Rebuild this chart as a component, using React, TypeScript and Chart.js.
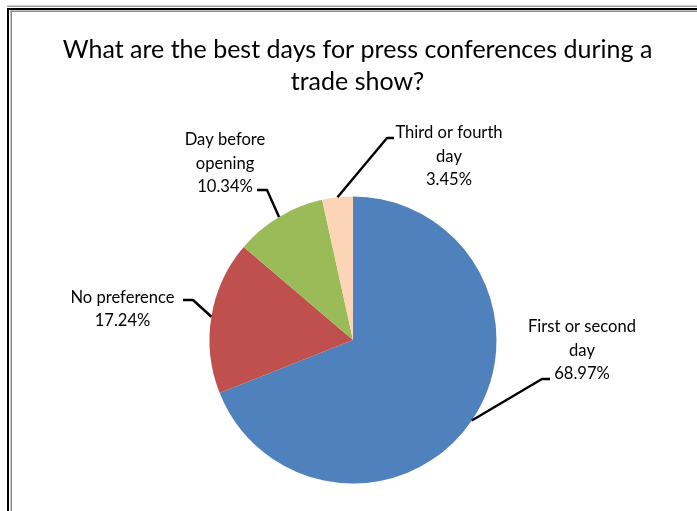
import React, { useEffect, useRef } from 'react';
import { Chart, registerables } from 'chart.js';

Chart.register(...registerables);

// ---- data ----
const titleLines = ['What are the best days for press conferences during a', 'trade show?'];
const categories = ['First or second day', 'No preference', 'Day before opening', 'Third or fourth day'];
const categoryLines = [['First or second', 'day'], ['No preference'], ['Day before', 'opening'], ['Third or fourth', 'day']];
const percentages = [68.97, 17.24, 10.34, 3.45];
const sliceColors = ['#4F81BD', '#C0504D', '#9BBB59', '#FBD5B5'];

// ---- label layout (placement only) ----
const labelAnchors = [
  { cx: 582, baseline: 332, elbow: [542, 379], end: [550, 379] },
  { cx: 122.5, baseline: 302.5, elbow: [193, 300], end: [183, 300] },
  { cx: 225, baseline: 145, elbow: [267, 190], end: [257, 190] },
  { cx: 449, baseline: 138, elbow: [387, 138], end: [394, 138] },
];
const LINE_H = 23.5;
const FONT = 'Lato, "Open Sans", sans-serif';

function fitSize(ctx: CanvasRenderingContext2D, text: string, target: number, base: number) {
  ctx.font = `${base}px ${FONT}`;
  const w = ctx.measureText(text).width;
  return w > 0 ? (base * target) / w : base;
}

const decorPlugin = {
  id: 'decor',
  beforeDraw(chart: any) {
    const ctx: CanvasRenderingContext2D = chart.ctx;
    ctx.save();
    ctx.fillStyle = '#ffffff';
    ctx.fillRect(0, 0, chart.width, chart.height);
    // frame
    ctx.fillStyle = '#a0a0a0';
    ctx.fillRect(7, 5.5, chart.width, 1.5);
    ctx.fillStyle = '#000000';
    ctx.fillRect(7, 8, chart.width, 2);
    ctx.fillRect(7, 8, 2, chart.height);
    ctx.fillStyle = '#8c8c8c';
    ctx.fillRect(10.5, 10.5, chart.width, 1.5);
    ctx.fillRect(10.5, 10.5, 1.5, chart.height);
    ctx.restore();
  },
  afterDatasetsDraw(chart: any) {
    const ctx: CanvasRenderingContext2D = chart.ctx;
    const meta = chart.getDatasetMeta(0);
    ctx.save();
    // leader lines
    ctx.strokeStyle = '#000000';
    ctx.lineWidth = 2.4;
    ctx.lineJoin = 'round';
    meta.data.forEach((arc: any, i: number) => {
      const p = arc.getProps(['x', 'y', 'startAngle', 'endAngle', 'outerRadius'], true);
      const mid = (p.startAngle + p.endAngle) / 2;
      const px = p.x + Math.cos(mid) * p.outerRadius;
      const py = p.y + Math.sin(mid) * p.outerRadius;
      const a = labelAnchors[i];
      ctx.beginPath();
      ctx.moveTo(px, py);
      ctx.lineTo(a.elbow[0], a.elbow[1]);
      ctx.lineTo(a.end[0], a.end[1]);
      ctx.stroke();
    });
    // data labels
    const labelSize = fitSize(ctx, 'First or second', 108, 18);
    ctx.font = `${labelSize}px ${FONT}`;
    ctx.fillStyle = '#000000';
    ctx.textAlign = 'center';
    ctx.textBaseline = 'alphabetic';
    categoryLines.forEach((lines, i) => {
      const a = labelAnchors[i];
      const all = [...lines, percentages[i].toFixed(2) + '%'];
      all.forEach((t, j) => ctx.fillText(t, a.cx, a.baseline + j * LINE_H));
    });
    // title
    const titleSize = fitSize(ctx, titleLines[0], 590, 24);
    ctx.font = `${titleSize}px ${FONT}`;
    ctx.fillText(titleLines[0], 357.5, 58);
    ctx.fillText(titleLines[1], 357.5, 90);
    ctx.restore();
  },
};

export default function App() {
  const ref = useRef<HTMLCanvasElement | null>(null);
  useEffect(() => {
    if (!ref.current) return;
    const chart = new Chart(ref.current, {
      type: 'pie',
      data: {
        labels: categories,
        datasets: [
          {
            data: percentages,
            backgroundColor: sliceColors,
            borderWidth: 0,
          },
        ],
      },
      options: {
        responsive: false,
        animation: false,
        devicePixelRatio: 1,
        events: [],
        layout: { padding: { left: 209.5, right: 200.5, top: 196.5, bottom: 27.5 } },
        plugins: {
          legend: { display: false },
          title: { display: false },
          tooltip: { enabled: false },
        },
      },
      plugins: [decorPlugin],
    });
    return () => chart.destroy();
  }, []);
  return (
    <div style={{ position: 'fixed', left: 0, top: 0, width: 697, height: 511, background: '#fff' }}>
      <canvas ref={ref} width={697} height={511} style={{ display: 'block' }} />
    </div>
  );
}
